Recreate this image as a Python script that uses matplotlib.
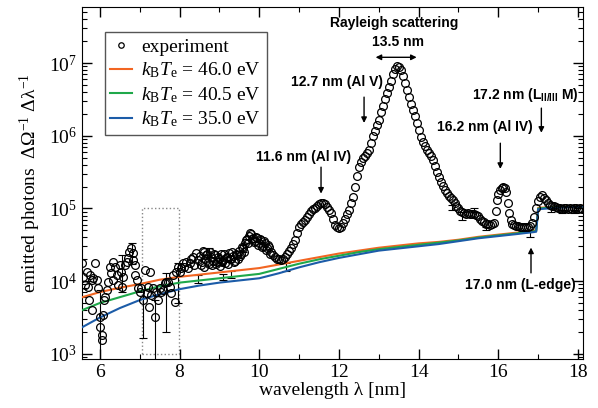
import numpy as np
from matplotlib import pyplot as plt
from matplotlib import font_manager
from matplotlib.patches import Rectangle
from matplotlib.ticker import LogLocator, MultipleLocator

plt.rcParams['font.family'] = ['Liberation Serif', 'DejaVu Serif']
plt.rcParams['mathtext.fontset'] = 'custom'
plt.rcParams['mathtext.rm'] = 'Liberation Serif'
plt.rcParams['mathtext.it'] = 'Liberation Serif:italic'
plt.rcParams['mathtext.sf'] = 'Liberation Sans:bold'

# experiment, noisy low-wavelength part (wavelength nm, log10 photons)
noisy_wl = [5.54, 5.58, 5.62, 5.67, 5.71, 5.72, 5.75, 5.80, 5.81, 5.83, 5.87, 5.92, 5.96,
            6.00, 6.01, 6.04, 6.05, 6.08, 6.09, 6.13, 6.17, 6.21, 6.25, 6.29, 6.33, 6.34,
            6.38, 6.42, 6.46, 6.50, 6.54, 6.55, 6.58, 6.63, 6.67, 6.71, 6.73, 6.79, 6.83,
            6.84, 6.88, 6.89, 6.92, 6.96, 7.00, 7.04, 7.08, 7.13, 7.17, 7.21, 7.22, 7.25,
            7.29, 7.33, 7.38, 7.42, 7.46, 7.50, 7.54, 7.58, 7.63, 7.67, 7.71, 7.75, 7.79,
            7.83, 7.88, 7.92, 7.96, 8.00, 8.04, 8.08, 8.12, 8.17, 8.21, 8.25, 8.29, 8.33,
            8.37, 8.42, 8.46]
noisy_log = [4.25, 4.06, 3.95, 4.13, 3.92, 3.74, 4.09, 4.02, 3.60, 4.04, 4.25, 4.02, 3.90,
             3.51, 3.37, 3.26, 3.19, 3.54, 3.74, 3.78, 3.88, 3.99, 4.20, 4.11, 4.26, 4.02,
             4.20, 4.09, 3.95, 4.22, 4.13, 3.92, 4.06, 4.22, 4.26, 4.32, 4.40, 4.46, 4.39,
             4.29, 4.22, 4.09, 4.02, 3.90, 3.85, 3.90, 3.74, 4.15, 3.84, 3.92, 3.65, 4.13,
             3.81, 3.90, 3.51, 3.85, 3.74, 3.90, 3.85, 3.88, 3.98, 3.99, 3.99, 3.92, 3.84,
             4.09, 3.71, 4.13, 4.20, 4.13, 4.18, 4.25, 4.20, 4.26, 4.18, 4.25, 4.30, 4.33,
             4.22, 4.39, 4.29]

# 8.5 - 10.3 nm, sampled every 0.025 nm
band_start, band_step = 8.50, 0.025
band_log = [4.35, 4.22, 4.27, 4.41, 4.40, 4.20, 4.30, 4.36, 4.38, 4.26,
            4.24, 4.40, 4.33, 4.22, 4.28, 4.38, 4.36, 4.24, 4.27, 4.33,
            4.31, 4.21, 4.37, 4.26, 4.29, 4.38, 4.25, 4.32, 4.33, 4.23,
            4.39, 4.31, 4.30, 4.40, 4.35, 4.26, 4.28, 4.37, 4.36, 4.30,
            4.42, 4.34, 4.38, 4.47, 4.46, 4.40, 4.52, 4.56, 4.58, 4.52,
            4.62, 4.66, 4.65, 4.58, 4.60, 4.54, 4.55, 4.61, 4.59, 4.50,
            4.52, 4.58, 4.56, 4.47, 4.49, 4.55, 4.53, 4.43, 4.45, 4.50,
            4.47, 4.38]

# 10.3 - 15.9 nm, every 0.05 nm
peak_start, peak_step = 10.30, 0.05
peak_log = [4.40, 4.36, 4.33, 4.31, 4.30, 4.29, 4.31, 4.33, 4.37, 4.41, 4.46, 4.51, 4.57, 4.66,
            4.74, 4.79, 4.82, 4.84, 4.88, 4.93, 4.97, 4.99, 5.01, 5.04,
            5.06, 5.08, 5.08, 5.06, 5.02, 4.98, 4.94, 4.86, 4.77, 4.74,
            4.73, 4.75, 4.80, 4.86, 4.92, 4.98, 5.07, 5.16, 5.30, 5.45,
            5.57, 5.64, 5.69, 5.72, 5.76, 5.81, 5.90, 5.99, 6.07, 6.15,
            6.22, 6.32, 6.41, 6.50, 6.59, 6.67, 6.76, 6.85, 6.92, 6.96,
            6.95, 6.90, 6.82, 6.73, 6.63, 6.53, 6.44, 6.36, 6.27, 6.18,
            6.08, 5.98, 5.91, 5.86, 5.81, 5.76, 5.72, 5.66, 5.58, 5.50,
            5.43, 5.37, 5.31, 5.26, 5.21, 5.17, 5.14, 5.11, 5.07, 5.03,
            5.00, 4.97, 4.95, 4.94, 4.93, 4.94, 4.93, 4.93, 4.92, 4.91,
            4.89, 4.86, 4.83, 4.81, 4.79, 4.78, 4.77, 4.78, 4.80]

# 16.2 nm line
line_wl = [15.93, 15.96, 16.00, 16.04, 16.08, 16.12, 16.16, 16.20, 16.24, 16.28, 16.32]
line_log = [4.97, 5.12, 5.20, 5.25, 5.28, 5.29, 5.28, 5.22, 5.08, 4.94, 4.84]

# 16.35 - 18.1 nm, every 0.05 nm
edge_start, edge_step = 16.35, 0.05
edge_log = [4.79, 4.77, 4.76, 4.76, 4.75, 4.75, 4.75, 4.74, 4.75, 4.76, 4.80, 4.88, 5.00,
            5.10, 5.16, 5.18, 5.15, 5.11, 5.07, 5.05, 5.04, 5.03, 5.02,
            5.01, 5.00, 4.99, 5.00, 5.01, 4.99, 5.00, 4.99, 5.00, 5.01,
            4.99, 5.00, 4.99]

# error bars (wavelength, lower, upper)
err_wl = [6.00, 6.55, 6.80, 7.08, 7.38, 7.67, 7.96, 8.46, 8.75, 9.05, 9.10, 9.30, 9.58,
          10.67, 14.83, 15.08, 15.40, 15.68, 16.80, 17.33, 17.60, 17.90]
err_lo = [800, 7.0e3, 1.7e4, 1.66e3, 700, 2.0e3, 5.0e3, 9.5e3, 2.15e4, 1.65e4, 1.05e4, 1.1e4,
          2.5e4, 1.4e4, 9.6e4, 6.9e4, 9.0e4, 5.0e4, 4.1e4, 9.0e4, 8.7e4, 8.7e4]
err_hi = [7.6e3, 2.3e4, 3.4e4, 7.6e3, 5.5e3, 1.3e4, 1.8e4, 1.2e4, 2.9e4, 2.1e4, 1.25e4, 1.4e4,
          3.16e4, 1.78e4, 1.12e5, 9.0e4, 1.0e5, 5.6e4, 4.8e4, 1.0e5, 9.5e4, 9.5e4]

# simulated spectra (log10 photons)
theory_wl = [5.50, 6.0, 6.5, 7.0, 7.5, 8.0, 8.5, 9.0, 9.5, 10.0, 10.5, 11.0, 11.5, 12.0,
             12.5, 13.0, 13.5, 14.0, 14.5, 15.0, 15.5, 16.0, 16.5, 16.95, 17.0, 17.5, 18.2]
te46_log = [3.77, 3.85, 3.91, 3.96, 4.02, 4.06, 4.09, 4.12, 4.15, 4.18, 4.23, 4.28, 4.33, 4.38,
            4.42, 4.46, 4.49, 4.52, 4.54, 4.57, 4.61, 4.64, 4.67, 4.70, 5.01, 5.02, 5.04]
te405_log = [3.59, 3.70, 3.78, 3.86, 3.93, 3.98, 4.01, 4.04, 4.07, 4.10, 4.17, 4.24, 4.30, 4.35,
             4.40, 4.44, 4.47, 4.50, 4.53, 4.56, 4.60, 4.63, 4.66, 4.69, 5.00, 5.02, 5.03]
te35_log = [3.35, 3.50, 3.63, 3.74, 3.82, 3.89, 3.94, 3.98, 4.01, 4.04, 4.11, 4.19, 4.26, 4.32,
            4.37, 4.42, 4.45, 4.48, 4.51, 4.55, 4.59, 4.62, 4.65, 4.68, 4.99, 5.01, 5.03]


def sampled(start, step, vals):
    return start + step * np.arange(len(vals))


# bold Helvetica-like face for the annotations, picked by file so no narrow variant sneaks in
def bold_sans():
    for path in font_manager.findSystemFonts():
        if path.endswith('LiberationSans-Bold.ttf'):
            return font_manager.FontProperties(fname=path, size=10)
    return font_manager.FontProperties(family='DejaVu Sans', weight='bold', size=9.5)


exp_wl = np.concatenate([noisy_wl, sampled(band_start, band_step, band_log),
                         sampled(peak_start, peak_step, peak_log), line_wl,
                         sampled(edge_start, edge_step, edge_log)])
exp_val = 10 ** np.concatenate([noisy_log, band_log, peak_log, line_log, edge_log])

fig = plt.figure(figsize=(5.98, 4.08), dpi=100)
ax = fig.add_axes([0.1371, 0.1201, 0.8378, 0.8627])
ax.set_yscale('log')

l46, = ax.plot(theory_wl, 10 ** np.array(te46_log), color='#f26522', lw=1.5,
               label=r'$k_\mathrm{B}T_\mathrm{e}$ = 46.0 eV', zorder=3)
l405, = ax.plot(theory_wl, 10 ** np.array(te405_log), color='#1fa84a', lw=1.5,
                label=r'$k_\mathrm{B}T_\mathrm{e}$ = 40.5 eV', zorder=3)
l35, = ax.plot(theory_wl, 10 ** np.array(te35_log), color='#1c5ca8', lw=1.5,
               label=r'$k_\mathrm{B}T_\mathrm{e}$ = 35.0 eV', zorder=3)

err_wl = np.array(err_wl)
err_lo = np.array(err_lo)
err_hi = np.array(err_hi)
mid = np.sqrt(err_lo * err_hi)
ax.errorbar(err_wl, mid, yerr=[mid - err_lo, err_hi - mid], fmt='none',
            ecolor='black', elinewidth=0.8, capsize=3, capthick=0.8, zorder=2)

lexp, = ax.plot(exp_wl, exp_val, 'o', mfc='none', mec='black', ms=5.6, mew=0.9,
                label='experiment', zorder=4)

ax.add_patch(Rectangle((7.05, 1e3), 0.93, 1e5 - 1e3, fill=False, ls=':',
                       ec='#888888', lw=1, zorder=1))

ax.set_xlim(5.55, 18.125)
ax.set_ylim(850, 5.9e7)
ax.xaxis.set_major_locator(MultipleLocator(2))
ax.xaxis.set_minor_locator(MultipleLocator(1))
ax.yaxis.set_major_locator(LogLocator(base=10))
ax.yaxis.set_minor_locator(LogLocator(base=10, subs=np.arange(2, 10)))
ax.tick_params(which='both', direction='in', top=True, right=True, labelsize=14)
ax.tick_params(which='major', length=7, width=1)
ax.tick_params(which='minor', length=3.5, width=0.8)
ax.set_xlabel('wavelength λ [nm]', fontsize=14, labelpad=1)
ax.set_ylabel('emitted photons  ΔΩ$^{-1}$ Δλ$^{-1}$', fontsize=14, labelpad=4)

leg = ax.legend(handles=[lexp, l46, l405, l35],
                loc='upper left', bbox_to_anchor=(0.045, 0.928), borderaxespad=0,
                fontsize=14, handlelength=1.1, handletextpad=0.5, labelspacing=0.25,
                borderpad=0.3, markerscale=0.7, fancybox=False, framealpha=1)
leg.get_frame().set_edgecolor('#555555')
leg.get_frame().set_linewidth(1)

fp = bold_sans()
bold = dict(fontproperties=fp, ha='center', va='center')
arrow = dict(arrowstyle='-|>', color='black', lw=1, mutation_scale=8, shrinkA=0, shrinkB=0)

ax.text(13.38, 3.6e7, 'Rayleigh scattering', **bold)
ax.text(13.47, 1.95e7, '13.5 nm', **bold)
ax.annotate('', xy=(13.95, 1.2e7), xytext=(12.92, 1.2e7),
            arrowprops=dict(arrow, arrowstyle='<|-|>'))
ax.text(11.94, 5.5e6, '12.7 nm (Al V)', **bold)
ax.annotate('', xy=(12.63, 1.5e6), xytext=(12.63, 3.4e6), arrowprops=arrow)
ax.text(11.12, 5.1e5, '11.6 nm (Al IV)', **bold)
ax.annotate('', xy=(11.55, 1.6e5), xytext=(11.55, 3.7e5), arrowprops=arrow)
ax.text(15.67, 1.3e6, '16.2 nm (Al IV)', **bold)
ax.annotate('', xy=(16.05, 3.5e5), xytext=(16.05, 7.9e5), arrowprops=arrow)
ax.text(16.68, 3.6e6, r'17.2 nm (L$_{\mathsf{II/III}}$ M)', **bold)
ax.annotate('', xy=(17.08, 1.1e6), xytext=(17.08, 2.4e6), arrowprops=arrow)
ax.text(16.55, 8.9e3, '17.0 nm (L-edge)', **bold)
ax.annotate('', xy=(16.82, 2.9e4), xytext=(16.82, 1.3e4), arrowprops=arrow)

fig.savefig('out.png', dpi=100)
